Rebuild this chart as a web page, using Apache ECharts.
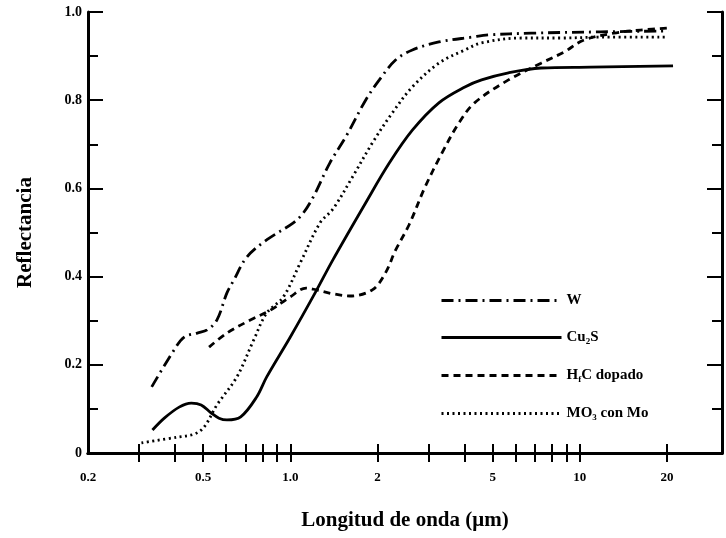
<!DOCTYPE html>
<html>
<head>
<meta charset="utf-8">
<script src="https://cdn.jsdelivr.net/npm/echarts@6/dist/echarts.min.js"></script>
<style>
  html, body { margin: 0; padding: 0; background: #fff; }
  #chart { width: 726px; height: 538px; }
</style>
</head>
<body>
<div id="chart"></div>
<script>
// wavelengths (um) and reflectance
const wX = [0.332, 0.397, 0.43, 0.477, 0.516, 0.558, 0.604, 0.638, 0.707, 0.828, 1.024, 1.108, 1.199, 1.37, 1.555, 1.82, 2.03, 2.31, 2.64, 3.26, 4.24, 4.84, 6.79, 11.8, 20.2];
const wY = [0.150, 0.234, 0.263, 0.272, 0.279, 0.302, 0.363, 0.392, 0.444, 0.483, 0.522, 0.544, 0.580, 0.658, 0.717, 0.800, 0.846, 0.891, 0.914, 0.932, 0.943, 0.948, 0.952, 0.955, 0.957];

const cuX = [0.334, 0.367, 0.413, 0.455, 0.492, 0.532, 0.567, 0.604, 0.674, 0.765, 0.828, 1.0, 1.218, 1.403, 1.82, 2.2, 2.64, 3.26, 4.01, 4.58, 5.67, 7.35, 10.9, 21.0];
const cuY = [0.052, 0.079, 0.104, 0.113, 0.109, 0.091, 0.079, 0.075, 0.082, 0.127, 0.172, 0.263, 0.363, 0.438, 0.567, 0.658, 0.732, 0.794, 0.830, 0.846, 0.862, 0.873, 0.875, 0.878];

const hfX = [0.524, 0.604, 0.73, 0.854, 1.0, 1.134, 1.227, 1.403, 1.605, 1.92, 2.13, 2.31, 2.57, 2.92, 3.34, 3.82, 4.33, 5.67, 7.35, 8.81, 10.3, 13.1, 16.2, 20.5];
const hfY = [0.240, 0.272, 0.302, 0.324, 0.354, 0.374, 0.370, 0.361, 0.356, 0.370, 0.408, 0.460, 0.517, 0.603, 0.680, 0.748, 0.794, 0.846, 0.884, 0.909, 0.936, 0.952, 0.959, 0.964];

const moX = [0.306, 0.407, 0.466, 0.504, 0.558, 0.653, 0.747, 0.828, 0.946, 1.082, 1.267, 1.403, 1.64, 1.92, 2.25, 2.64, 3.26, 4.01, 4.58, 6.28, 8.61, 11.8, 20.0];
const moY = [0.023, 0.036, 0.043, 0.059, 0.109, 0.172, 0.256, 0.317, 0.354, 0.431, 0.522, 0.553, 0.626, 0.703, 0.771, 0.830, 0.884, 0.914, 0.930, 0.941, 0.941, 0.943, 0.943];

const xLabelValues = [0.2, 0.5, 1, 2, 5, 10, 20];
const xTickValues = [0.3, 0.4, 0.5, 0.6, 0.7, 0.8, 0.9, 1, 2, 3, 4, 5, 6, 7, 8, 9, 10, 20];
const seriesNames = ['W', 'Cu2S', 'HfC dopado', 'MO3 con Mo'];

function zip(xs, ys) {
  return xs.map((x, i) => [x, ys[i]]);
}

const font = 'Liberation Serif';
const ink = '#000';

const xBase = {
  type: 'log',
  min: 0.2,
  max: 31,
  axisLine: { show: true, lineStyle: { color: ink, width: 3 } },
  axisTick: { show: true, inside: true, length: 9, customValues: xTickValues, lineStyle: { color: ink, width: 2 } },
  splitLine: { show: false },
  minorTick: { show: false }
};
const yBase = {
  type: 'value',
  min: 0,
  max: 1,
  interval: 0.2,
  axisLine: { show: true, lineStyle: { color: ink, width: 3 } },
  axisTick: { show: true, inside: true, length: 15, lineStyle: { color: ink, width: 2 } },
  minorTick: { show: true, splitNumber: 2, length: 10, lineStyle: { color: ink, width: 2 } },
  splitLine: { show: false }
};

const legendLabels = {
  'W': '{n|W}',
  'Cu2S': '{n|Cu}{s|2}{n|S}',
  'HfC dopado': '{n|H}{s|f}{n|C dopado}',
  'MO3 con Mo': '{n|MO}{s|3}{n| con Mo}'
};

const lineW = 2.8;
function line(name, xs, ys, type, xIndex) {
  return {
    name: name,
    type: 'line',
    xAxisIndex: xIndex || 0,
    data: zip(xs, ys),
    smooth: 0.35,
    showSymbol: false,
    symbol: 'none',
    lineStyle: { color: ink, width: lineW, type: type },
    itemStyle: { color: ink },
    z: 3
  };
}

// copy bound to the top axis so that axis gets an extent; not drawn
const topHelper = line('top', cuX, cuY, 'solid', 1);
topHelper.lineStyle.opacity = 0;
topHelper.silent = true;

const chart = echarts.init(document.getElementById('chart'));
chart.setOption({
  backgroundColor: '#fff',
  animation: false,
  grid: { left: 88, right: 4, top: 12, bottom: 85 },
  legend: {
    orient: 'vertical',
    left: 440,
    top: 293,
    padding: 0,
    itemWidth: 120,
    itemHeight: 14,
    itemGap: 22,
    data: seriesNames,
    formatter: name => legendLabels[name],
    itemStyle: { opacity: 0 },
    lineStyle: { width: 3 },
    textStyle: {
      color: ink,
      fontFamily: font,
      fontWeight: 'bold',
      fontSize: 15,
      rich: {
        n: { fontFamily: font, fontWeight: 'bold', fontSize: 15, color: ink },
        s: { fontFamily: font, fontWeight: 'bold', fontSize: 9, color: ink, verticalAlign: 'bottom', padding: [8, 0, 0, 0] }
      }
    }
  },
  xAxis: [
    Object.assign({}, xBase, {
      position: 'bottom',
      name: 'Longitud de onda (\u03bcm)',
      nameLocation: 'middle',
      nameGap: 57,
      nameTextStyle: { fontFamily: font, fontWeight: 'bold', fontSize: 21, color: ink },
      axisLabel: {
        show: true,
        customValues: xLabelValues,
        margin: 18,
        fontFamily: font,
        fontWeight: 'bold',
        fontSize: 13,
        color: ink,
        formatter: v => (v === 1 ? '1.0' : String(v))
      }
    }),
    Object.assign({}, xBase, {
      position: 'top',
      axisLabel: { show: false }
    })
  ],
  yAxis: [
    Object.assign({}, yBase, {
      position: 'left',
      name: 'Reflectancia',
      nameLocation: 'middle',
      nameGap: 52,
      nameTextStyle: { fontFamily: font, fontWeight: 'bold', fontSize: 21, color: ink },
      axisLabel: {
        show: true,
        margin: 6,
        fontFamily: font,
        fontWeight: 'bold',
        fontSize: 14,
        color: ink,
        formatter: v => (v === 0 ? '0' : v.toFixed(1))
      }
    }),
    Object.assign({}, yBase, {
      position: 'right',
      axisLabel: { show: false }
    })
  ],
  series: [
    line('W', wX, wY, [12, 5, 2, 5]),
    line('Cu2S', cuX, cuY, 'solid'),
    line('HfC dopado', hfX, hfY, [7, 5]),
    line('MO3 con Mo', moX, moY, [2, 3.5]),
    topHelper
  ]
});
</script>
</body>
</html>
